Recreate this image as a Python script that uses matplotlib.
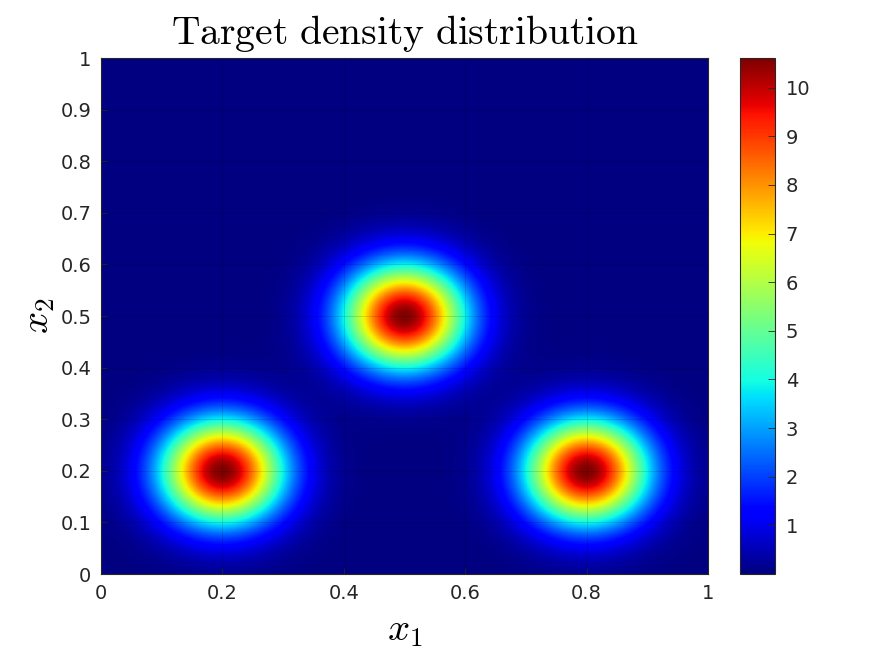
import numpy as np
import matplotlib
matplotlib.use("Agg")
from matplotlib import pyplot as plt

# gaussian mixture parameters
centers_x1 = [0.2, 0.5, 0.8]
centers_x2 = [0.2, 0.5, 0.2]
weights = [1 / 3, 1 / 3, 1 / 3]
variance = 0.005

cbar_ticks = [1, 2, 3, 4, 5, 6, 7, 8, 9, 10]
axis_ticks = [0, 0.1, 0.2, 0.3, 0.4, 0.5, 0.6, 0.7, 0.8, 0.9, 1]

# density on a grid
g = np.linspace(0, 1, 401)
X1, X2 = np.meshgrid(g, g)
rho = np.zeros_like(X1)
for cx, cy, w in zip(centers_x1, centers_x2, weights):
    rho += w / (2 * np.pi * variance) * np.exp(-((X1 - cx) ** 2 + (X2 - cy) ** 2) / (2 * variance))

plt.rcParams["mathtext.fontset"] = "cm"
plt.rcParams["font.family"] = "DejaVu Sans"
txt = "#262626"

fig = plt.figure(figsize=(8.91, 6.56), dpi=100)
ax = fig.add_axes([101 / 891, 1 - 574 / 656, 607 / 891, 516 / 656])
cax = fig.add_axes([740.3 / 891, 1 - 574 / 656, 34.4 / 891, 516 / 656])

im = ax.pcolormesh(X1, X2, rho, cmap="jet", shading="gouraud")
ax.set_xlim(0, 1)
ax.set_ylim(0, 1)
ax.set_xticks([0, 0.2, 0.4, 0.6, 0.8, 1])
ax.set_xticklabels(["0", "0.2", "0.4", "0.6", "0.8", "1"])
ax.set_yticks(axis_ticks)
ax.set_yticklabels(["0"] + ["%.1f" % t for t in axis_ticks[1:-1]] + ["1"])
ax.grid(True, color="k", alpha=0.15, linewidth=0.6)
ax.tick_params(direction="in", length=4, width=0.6, colors=txt, labelsize=14, pad=7)
for s in ax.spines.values():
    s.set_color(txt)
    s.set_linewidth(0.8)

ax.set_title(r"$\mathrm{Target\ density\ distribution}$", fontsize=28.5, pad=10, color="k")
ax.set_xlabel(r"$x_1$", fontsize=28, labelpad=6)
ax.set_ylabel(r"$x_2$", fontsize=28, labelpad=2)

cb = fig.colorbar(im, cax=cax)
cb.set_ticks(cbar_ticks)
cb.ax.tick_params(direction="in", length=5, width=0.6, colors=txt, labelsize=14, pad=8)
cb.outline.set_edgecolor(txt)
cb.outline.set_linewidth(0.8)

plt.savefig("out.png", dpi=100)
